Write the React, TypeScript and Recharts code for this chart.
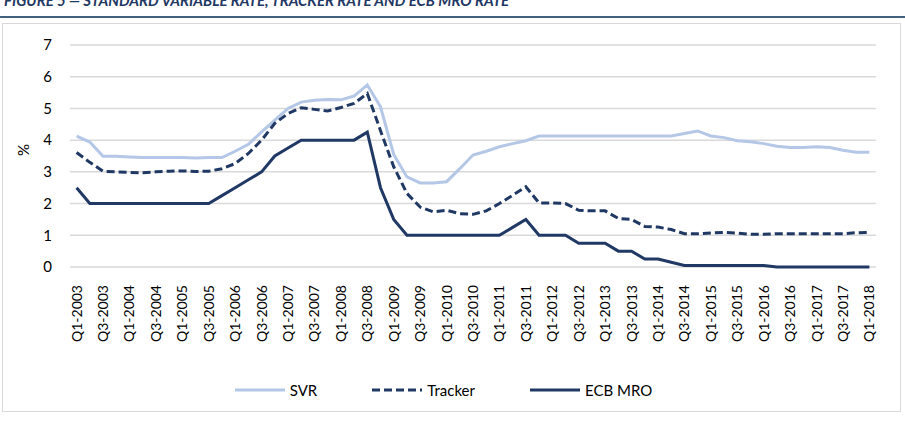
import { LineChart, Line, XAxis, YAxis, CartesianGrid, Legend } from 'recharts';

const QUARTERS = [
  'Q1-2003', 'Q2-2003', 'Q3-2003', 'Q4-2003', 'Q1-2004', 'Q2-2004', 'Q3-2004', 'Q4-2004',
  'Q1-2005', 'Q2-2005', 'Q3-2005', 'Q4-2005', 'Q1-2006', 'Q2-2006', 'Q3-2006', 'Q4-2006',
  'Q1-2007', 'Q2-2007', 'Q3-2007', 'Q4-2007', 'Q1-2008', 'Q2-2008', 'Q3-2008', 'Q4-2008',
  'Q1-2009', 'Q2-2009', 'Q3-2009', 'Q4-2009', 'Q1-2010', 'Q2-2010', 'Q3-2010', 'Q4-2010',
  'Q1-2011', 'Q2-2011', 'Q3-2011', 'Q4-2011', 'Q1-2012', 'Q2-2012', 'Q3-2012', 'Q4-2012',
  'Q1-2013', 'Q2-2013', 'Q3-2013', 'Q4-2013', 'Q1-2014', 'Q2-2014', 'Q3-2014', 'Q4-2014',
  'Q1-2015', 'Q2-2015', 'Q3-2015', 'Q4-2015', 'Q1-2016', 'Q2-2016', 'Q3-2016', 'Q4-2016',
  'Q1-2017', 'Q2-2017', 'Q3-2017', 'Q4-2017', 'Q1-2018',
];

const SVR = [
  4.13, 3.94, 3.49, 3.49, 3.47, 3.45, 3.45, 3.45, 3.45, 3.44, 3.45, 3.45, 3.65, 3.87, 4.26, 4.63,
  5.0, 5.2, 5.26, 5.28, 5.27, 5.39, 5.74, 5.05, 3.55, 2.84, 2.65, 2.65, 2.69, 3.1, 3.53, 3.65,
  3.79, 3.89, 3.98, 4.13, 4.13, 4.13, 4.13, 4.13, 4.13, 4.13, 4.13, 4.13, 4.13, 4.13, 4.21, 4.29,
  4.13, 4.08, 3.98, 3.95, 3.89, 3.81, 3.77, 3.77, 3.79, 3.77, 3.68, 3.62, 3.62,
];

const TRACKER = [
  3.61, 3.3, 3.02, 3.0, 2.98, 2.97, 3.0, 3.02, 3.03, 3.01, 3.02, 3.1, 3.26, 3.58, 4.0, 4.53,
  4.84, 5.02, 4.97, 4.92, 5.03, 5.16, 5.47, 4.3, 3.16, 2.32, 1.89, 1.74, 1.79, 1.68, 1.66, 1.77,
  2.0, 2.26, 2.53, 2.02, 2.02, 2.0, 1.79, 1.77, 1.77, 1.53, 1.5, 1.28, 1.26, 1.18, 1.05, 1.05,
  1.07, 1.09, 1.07, 1.03, 1.03, 1.05, 1.05, 1.05, 1.05, 1.05, 1.05, 1.08, 1.09,
];

const ECB_MRO = [
  2.5, 2.0, 2.0, 2.0, 2.0, 2.0, 2.0, 2.0, 2.0, 2.0, 2.0, 2.25, 2.5, 2.75, 3.0, 3.5,
  3.75, 4.0, 4.0, 4.0, 4.0, 4.0, 4.25, 2.5, 1.5, 1.0, 1.0, 1.0, 1.0, 1.0, 1.0, 1.0,
  1.0, 1.25, 1.5, 1.0, 1.0, 1.0, 0.75, 0.75, 0.75, 0.5, 0.5, 0.25, 0.25, 0.15, 0.05, 0.05,
  0.05, 0.05, 0.05, 0.05, 0.05, 0, 0, 0, 0, 0, 0, 0, 0,
];

const Y_TICKS = [0, 1, 2, 3, 4, 5, 6, 7];

const LIGHT = '#b4c7e7';
const NAVY = '#1f3864';
const FONT = 'Lato, "Open Sans", sans-serif';

const data = QUARTERS.map((q, i) => ({ q, svr: SVR[i], tracker: TRACKER[i], ecb: ECB_MRO[i] }));

const QuarterTick = (props: any) => {
  const { x, y, payload } = props;
  return (
    <text x={x} y={y + 10} transform={`rotate(-90 ${x} ${y + 10})`} textAnchor="end" dy={5}
      fontSize={14} fill="#000" fontFamily={FONT}>
      {payload.value}
    </text>
  );
};

const LegendBox = () => {
  const items = [
    { label: 'SVR', color: LIGHT, dash: undefined },
    { label: 'Tracker', color: NAVY, dash: '8 4' },
    { label: 'ECB MRO', color: NAVY, dash: undefined },
  ];
  return (
    <div style={{ display: 'flex', justifyContent: 'center', gap: 54, height: 24, alignItems: 'center', fontFamily: FONT, fontSize: 15, paddingRight: 30 }}>
      {items.map((it) => (
        <div key={it.label} style={{ display: 'flex', alignItems: 'center' }}>
          <svg width={52} height={10}>
            <line x1={1} y1={5} x2={51} y2={5} stroke={it.color} strokeWidth={3} strokeDasharray={it.dash} />
          </svg>
          <span style={{ marginLeft: 4, color: '#000' }}>{it.label}</span>
        </div>
      ))}
    </div>
  );
};

export default function App() {
  return (
    <div style={{ position: 'absolute', left: 0, top: 0, width: 905, height: 430, background: '#fff', overflow: 'hidden' }}>
      <div style={{ position: 'absolute', left: 4, top: -9, fontFamily: FONT, fontWeight: 700, fontStyle: 'italic', fontSize: 15, color: NAVY, whiteSpace: 'nowrap' }}>
        FIGURE 5 — STANDARD VARIABLE RATE, TRACKER RATE AND ECB MRO RATE
      </div>
      <div style={{ position: 'absolute', left: 0, top: 16, width: 905, height: 2, background: '#41627a' }} />
      <div style={{ position: 'absolute', left: 2, top: 23, width: 897, height: 387, border: '1px solid #d9d9d9' }} />
      <div style={{ position: 'absolute', left: 0, top: 0 }}>
        <LineChart width={905} height={430} data={data} margin={{ top: 45, right: 29, bottom: 28, left: 40 }}>
          <CartesianGrid vertical={false} stroke="#d9d9d9" strokeWidth={1.5} />
          <XAxis dataKey="q" interval={1} tick={<QuarterTick />} tickLine={false} axisLine={false}
            height={111} padding={{ left: 6.6, right: 6.6 }} />
          <YAxis domain={[0, 7]} ticks={Y_TICKS} width={30} tickLine={false} axisLine={false}
            tick={{ fontSize: 15, fill: '#000', fontFamily: FONT, dx: -10 }}
            label={{ value: '%', angle: -90, position: 'insideLeft', offset: -16, style: { fontSize: 15, fill: '#000', fontFamily: FONT } }} />
          <Legend verticalAlign="bottom" content={<LegendBox />} />
          <Line type="linear" dataKey="svr" name="SVR" stroke={LIGHT} strokeWidth={3} dot={false} isAnimationActive={false} />
          <Line type="linear" dataKey="tracker" name="Tracker" stroke={NAVY} strokeWidth={3} strokeDasharray="8 4" dot={false} isAnimationActive={false} />
          <Line type="linear" dataKey="ecb" name="ECB MRO" stroke={NAVY} strokeWidth={3} dot={false} isAnimationActive={false} />
        </LineChart>
      </div>
    </div>
  );
}
